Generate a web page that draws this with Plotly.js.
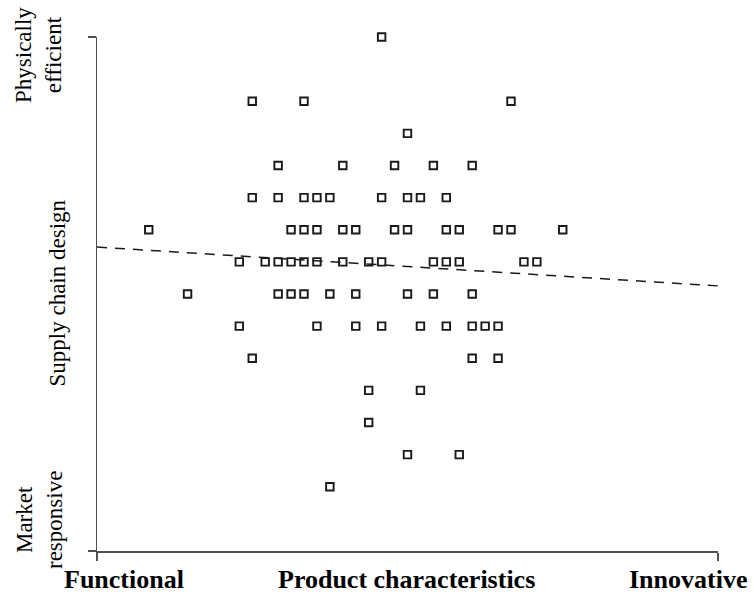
<!DOCTYPE html>
<html>
<head>
<meta charset="utf-8">
<script src="https://cdn.plot.ly/plotly-3.0.1.min.js"></script>
<style>html,body{margin:0;padding:0;background:#fff;}#chart{width:754px;height:603px;}</style>
</head>
<body>
<div id="chart"></div>
<script>
// Product characteristics (x) and supply chain design (y) scores, one entry per product
const productX = [
  22,
  12, 16, 32,
  24,
  14, 19, 23, 26, 29,
  12, 14, 16, 17, 18, 22, 24, 25, 27,
  4, 15, 16, 17, 19, 20, 23, 24, 27, 28, 31, 32, 36,
  11, 13, 14, 15, 16, 17, 19, 21, 22, 26, 27, 28, 33, 34,
  7, 14, 15, 16, 18, 20, 24, 26, 29,
  11, 17, 20, 22, 25, 27, 29, 30, 31,
  12, 29, 31,
  21, 25,
  21,
  24, 28,
  18
];
const designY = [
  16,
  14, 14, 14,
  13,
  12, 12, 12, 12, 12,
  11, 11, 11, 11, 11, 11, 11, 11, 11,
  10, 10, 10, 10, 10, 10, 10, 10, 10, 10, 10, 10, 10,
  9, 9, 9, 9, 9, 9, 9, 9, 9, 9, 9, 9, 9, 9,
  8, 8, 8, 8, 8, 8, 8, 8, 8,
  7, 7, 7, 7, 7, 7, 7, 7, 7,
  6, 6, 6,
  5, 5,
  4,
  3, 3,
  2
];
// Linear trend line end points
const trendX = [0, 48.1];
const trendY = [9.46, 8.25];

const xRange = [0, 48];
const yRange = [0, 16];

const xEndLabels = ["Functional", "Product characteristics", "Innovative"];
const yEndLabels = ["Physically<br>efficient", "Supply chain design", "Market<br>responsive"];

const serif = "Liberation Serif, Times New Roman, serif";

const traces = [
  {
    x: trendX, y: trendY, type: "scatter", mode: "lines",
    line: {color: "#1a1a1a", width: 1.5, dash: "10px,8px"},
    hoverinfo: "skip", cliponaxis: false
  },
  {
    x: productX, y: designY, type: "scatter", mode: "markers",
    marker: {symbol: "square-open", size: 7.5, color: "#1a1a1a", line: {width: 1.9, color: "#1a1a1a"}},
    cliponaxis: false
  }
];

const axisCommon = {
  showgrid: false, zeroline: false, showline: true, linecolor: "#505050", linewidth: 1.5,
  ticks: "outside", ticklen: 8, tickwidth: 1.5, tickcolor: "#505050",
  showticklabels: false, fixedrange: true
};

const xFont = {size: 26, family: serif, color: "#000", weight: "bold"};
const yFont = {size: 23, family: serif, color: "#000"};

const layout = {
  width: 754, height: 603,
  margin: {l: 97, r: 36, t: 37, b: 52},
  paper_bgcolor: "#fff", plot_bgcolor: "#fff",
  showlegend: false,
  xaxis: Object.assign({}, axisCommon, {range: xRange, tickvals: xRange}),
  yaxis: Object.assign({}, axisCommon, {range: yRange, tickvals: yRange}),
  font: {family: serif, color: "#000"},
  annotations: [
    {text: xEndLabels[0], xref: "paper", yref: "paper", x: 0.0435, y: -0.056, showarrow: false, xanchor: "center", yanchor: "middle", font: xFont},
    {text: xEndLabels[1], xref: "paper", yref: "paper", x: 0.498, y: -0.056, showarrow: false, xanchor: "center", yanchor: "middle", font: xFont},
    {text: xEndLabels[2], xref: "paper", yref: "paper", x: 0.951, y: -0.056, showarrow: false, xanchor: "center", yanchor: "middle", font: xFont},
    {text: yEndLabels[0], xref: "paper", yref: "paper", x: -0.0934, y: 0.965, showarrow: false, textangle: -90, xanchor: "center", yanchor: "middle", font: yFont},
    {text: yEndLabels[1], xref: "paper", yref: "paper", x: -0.0644, y: 0.501, showarrow: false, textangle: -90, xanchor: "center", yanchor: "middle", font: yFont},
    {text: yEndLabels[2], xref: "paper", yref: "paper", x: -0.0934, y: 0.0603, showarrow: false, textangle: -90, xanchor: "center", yanchor: "middle", font: yFont}
  ]
};

Plotly.newPlot("chart", traces, layout, {displayModeBar: false, staticPlot: true});
</script>
</body>
</html>
